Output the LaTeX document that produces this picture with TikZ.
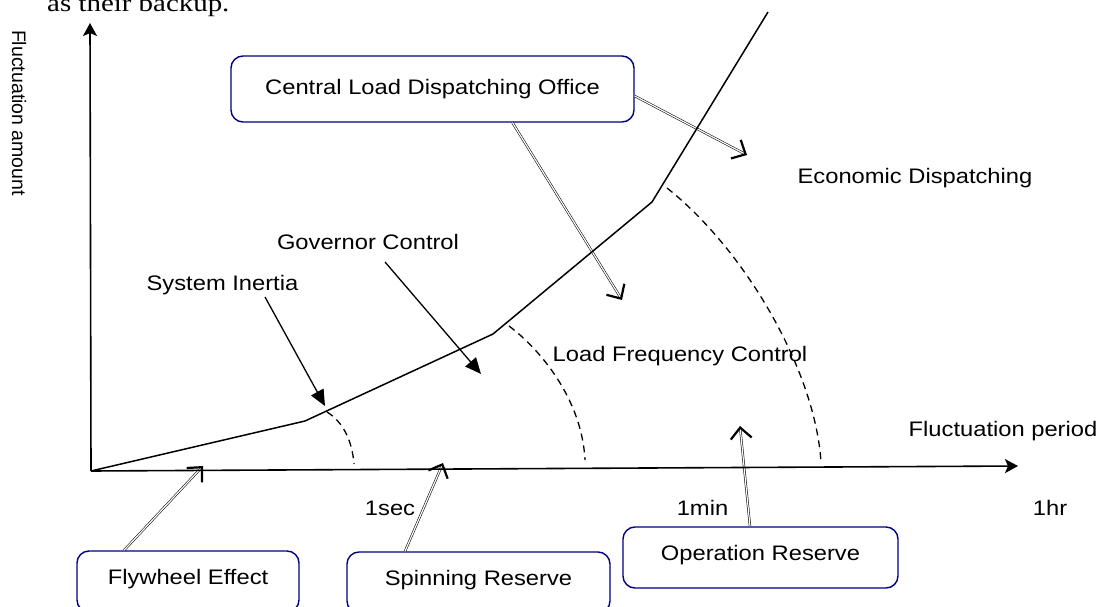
\documentclass[tikz,border=0pt]{standalone}
\usepackage{fontspec}
\setmainfont{Liberation Sans}
\newfontfamily\lab[FakeStretch=1.13]{Liberation Sans}
\newfontfamily\wideserif[FakeStretch=1.18]{Liberation Serif}
\usetikzlibrary{arrows.meta,calc}
\definecolor{boxblue}{RGB}{0,0,128}

\begin{document}
\begin{tikzpicture}[x=1pt,y=-1pt,
  tag/.style={font=\lab\fontsize{21}{25}\selectfont, inner sep=0pt, anchor=base},
  panel/.style={draw=boxblue, line width=1.4pt, rounded corners=12pt, inner sep=0pt,
    font=\lab\fontsize{21}{25}\selectfont, text height=15pt, text depth=10pt},
  axis/.style={line width=1.6pt, -{Stealth[length=13pt,width=14pt,inset=3pt]}},
  curve/.style={line width=1.5pt, line join=miter},
  boundary/.style={line width=1.3pt, dash pattern=on 7pt off 5pt},
  pointer/.style={line width=1.3pt, -{Triangle[length=16pt,width=14pt]}},
  feed/.style={draw=black, line width=0.55pt, double=white, double distance=1.2pt,
    -{Straight Barb[length=11pt,width=21pt,line width=2.2pt]}}
]
\useasboundingbox (0,0) rectangle (1108,607);
\clip (0,0) rectangle (1108,607);

% text running in from above
\node[font=\wideserif\fontsize{24.5}{28}\selectfont, inner sep=0pt, anchor=base west] (backup) at (47,12) {as their backup.};

% control boxes
\node[panel, minimum width=403pt, minimum height=66pt, text depth=3pt] (cldo) at (432.5,89) {Central Load Dispatching Office};
\node[panel, minimum width=222pt, minimum height=61pt] (fly) at (188,581.5) {Flywheel Effect};
\node[panel, minimum width=263pt, minimum height=61pt] (spin) at (478.5,582.5) {Spinning Reserve};
\node[panel, minimum width=275pt, minimum height=61pt] (oper) at (760.5,557.5) {Operation Reserve};

% free labels
\node[tag] (econ) at (915,183) {Economic Dispatching};
\node[tag] (gov) at (368,249) {Governor Control};
\node[tag] (inertia) at (222.5,290) {System Inertia};
\node[tag] (lfc) at (680,361) {Load Frequency Control};
\node[tag] (period) at (1003,436) {Fluctuation period};
\node[tag] (t1) at (390,515) {1sec};
\node[tag] (t2) at (702.5,515) {1min};
\node[tag] (t3) at (1050,515) {1hr};
\node[font=\fontsize{19.5}{23}\selectfont, inner sep=0pt, rotate=-90] (amount) at (19,113) {Fluctuation amount};

% arrow end points
\coordinate (O) at (91,471);
\coordinate (ytop) at (90,23);
\coordinate (xend) at (1018,466);
\coordinate (econ-tip) at (747,155);
\coordinate (lfc-tip) at (622,300);
\coordinate (fly-tip) at (203,466);
\coordinate (spin-tip) at (443,463);
\coordinate (oper-tip) at (740,426);
\coordinate (si-from) at (265,297);
\coordinate (si-tip) at (325,406);
\coordinate (gov-from) at (385,262);
\coordinate (gov-tip) at (481,374);

% double arrows from the boxes
\draw[feed] ([yshift=-7pt]cldo.east) -- (econ-tip);
\draw[feed] ([xshift=80pt]cldo.south) -- (lfc-tip);
\draw[feed] ([xshift=-64pt]fly.north) -- (fly-tip);
\draw[feed] ([xshift=-73.5pt]spin.north) -- (spin-tip);
\draw[feed] ([xshift=-10.5pt]oper.north) -- (oper-tip);

% axes
\draw[axis] (O) -- (ytop);
\draw[axis] (O) -- (xend);

% fluctuation curve
\draw[curve] (O) -- (305,421) -- (493,334) -- (652,202) -- (768,12);

% region boundaries
\draw[boundary] (327,412) .. controls (343,422) and (352,440) .. (354,464);
\draw[boundary] (509,326) .. controls (541,350) and (582,400) .. (585,460);
\draw[boundary] (667,188) .. controls (745,250) and (815,370) .. (821,462);

% single arrows
\draw[pointer] (si-from) -- (si-tip);
\draw[pointer] (gov-from) -- (gov-tip);
\end{tikzpicture}
\end{document}
